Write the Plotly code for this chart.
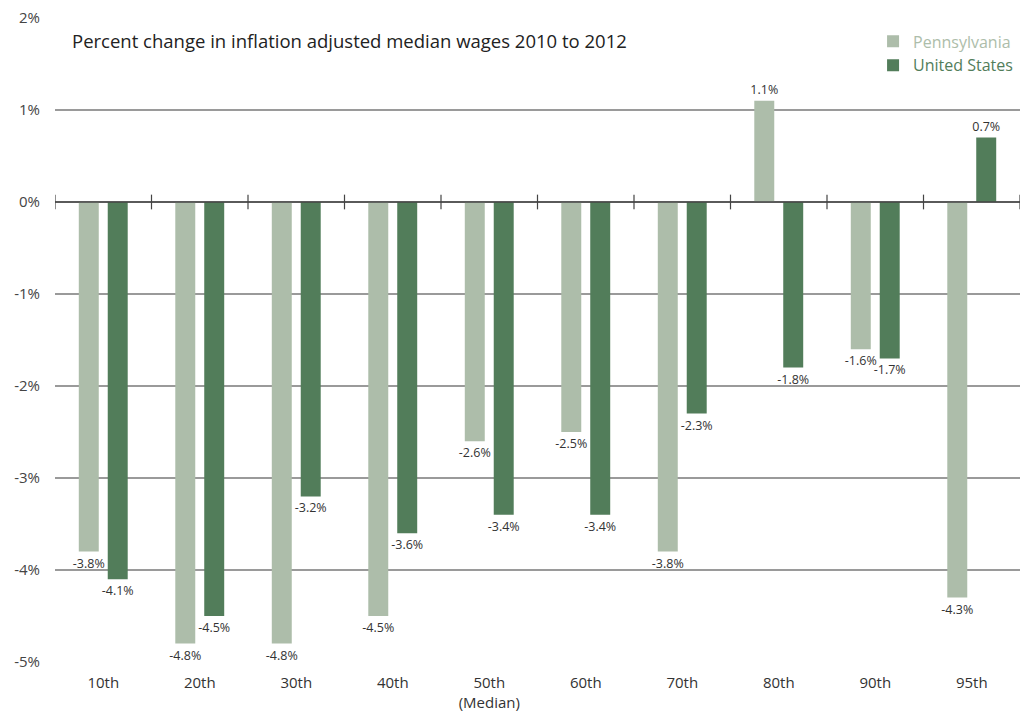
import plotly.graph_objects as go

# Wage percentiles and percent change in inflation-adjusted median wages, 2010-2012
percentiles = ["10th", "20th", "30th", "40th", "50th<br>(Median)", "60th", "70th", "80th", "90th", "95th"]
pennsylvania = [-3.8, -4.8, -4.8, -4.5, -2.6, -2.5, -3.8, 1.1, -1.6, -4.3]
united_states = [-4.1, -4.5, -3.2, -3.6, -3.4, -3.4, -2.3, -1.8, -1.7, 0.7]

y_ticks = [2, 1, 0, -1, -2, -3, -4, -5]

PA_COLOR = "#adbdaa"
US_COLOR = "#527d5a"
FONT = "Open Sans"

x_pos = list(range(len(percentiles)))


def labels(vals):
    return [f"{v:.1f}%" for v in vals]


fig = go.Figure()
fig.add_trace(go.Bar(
    x=x_pos, y=pennsylvania,
    name=f"<span style='color:{PA_COLOR}'>Pennsylvania</span>",
    marker=dict(color=PA_COLOR, line=dict(width=0)),
    text=labels(pennsylvania), textposition="outside", constraintext="none",
    textfont=dict(size=12.5, color="#333333", family=FONT),
    cliponaxis=False,
))
fig.add_trace(go.Bar(
    x=x_pos, y=united_states,
    name=f"<span style='color:{US_COLOR}'>United States</span>",
    marker=dict(color=US_COLOR, line=dict(width=0)),
    text=labels(united_states), textposition="outside", constraintext="none",
    textfont=dict(size=12.5, color="#333333", family=FONT),
    cliponaxis=False,
))

# Zero baseline with category separator ticks
n = len(percentiles)
shapes = [dict(type="line", xref="x", yref="y", x0=-0.5, x1=n - 0.5, y0=0, y1=0,
               line=dict(color="#444444", width=1.5), layer="above")]
for i in range(n + 1):
    shapes.append(dict(type="line", xref="x", yref="y", x0=i - 0.5, x1=i - 0.5,
                       y0=-0.08, y1=0.08, line=dict(color="#444444", width=1.2), layer="above"))

fig.update_layout(
    width=1024, height=715,
    margin=dict(l=55, r=4, t=18, b=53),
    paper_bgcolor="white", plot_bgcolor="white",
    barmode="group", bargap=0.4, bargroupgap=0.31,
    font=dict(family=FONT, color="#444444"),
    showlegend=True,
    legend=dict(x=0.998, y=0.99, xanchor="right", yanchor="top",
                font=dict(size=16, family=FONT), bgcolor="rgba(0,0,0,0)",
                itemwidth=30, tracegroupgap=6),
    xaxis=dict(range=[-0.5, n - 0.5], tickvals=x_pos, ticktext=percentiles,
               showgrid=False, zeroline=False, showline=False, ticks="",
               tickfont=dict(size=15, color="#333333", family=FONT), ticklabelstandoff=10),
    yaxis=dict(range=[-5, 2], tickvals=y_ticks, ticktext=[f"{t}%" for t in y_ticks],
               showgrid=True, gridcolor="#9a9a9a", gridwidth=1.5, zeroline=False,
               showline=False, ticks="", ticklabelstandoff=14,
               tickfont=dict(size=15, color="#444444", family=FONT)),
    shapes=shapes,
    annotations=[dict(text="Percent change in inflation adjusted median wages 2010 to 2012",
                      xref="paper", yref="paper", x=0.016, y=0.965, xanchor="left", yanchor="middle",
                      showarrow=False, font=dict(size=18.5, color="#222222", family=FONT))],
)

fig.write_html("out.html")
